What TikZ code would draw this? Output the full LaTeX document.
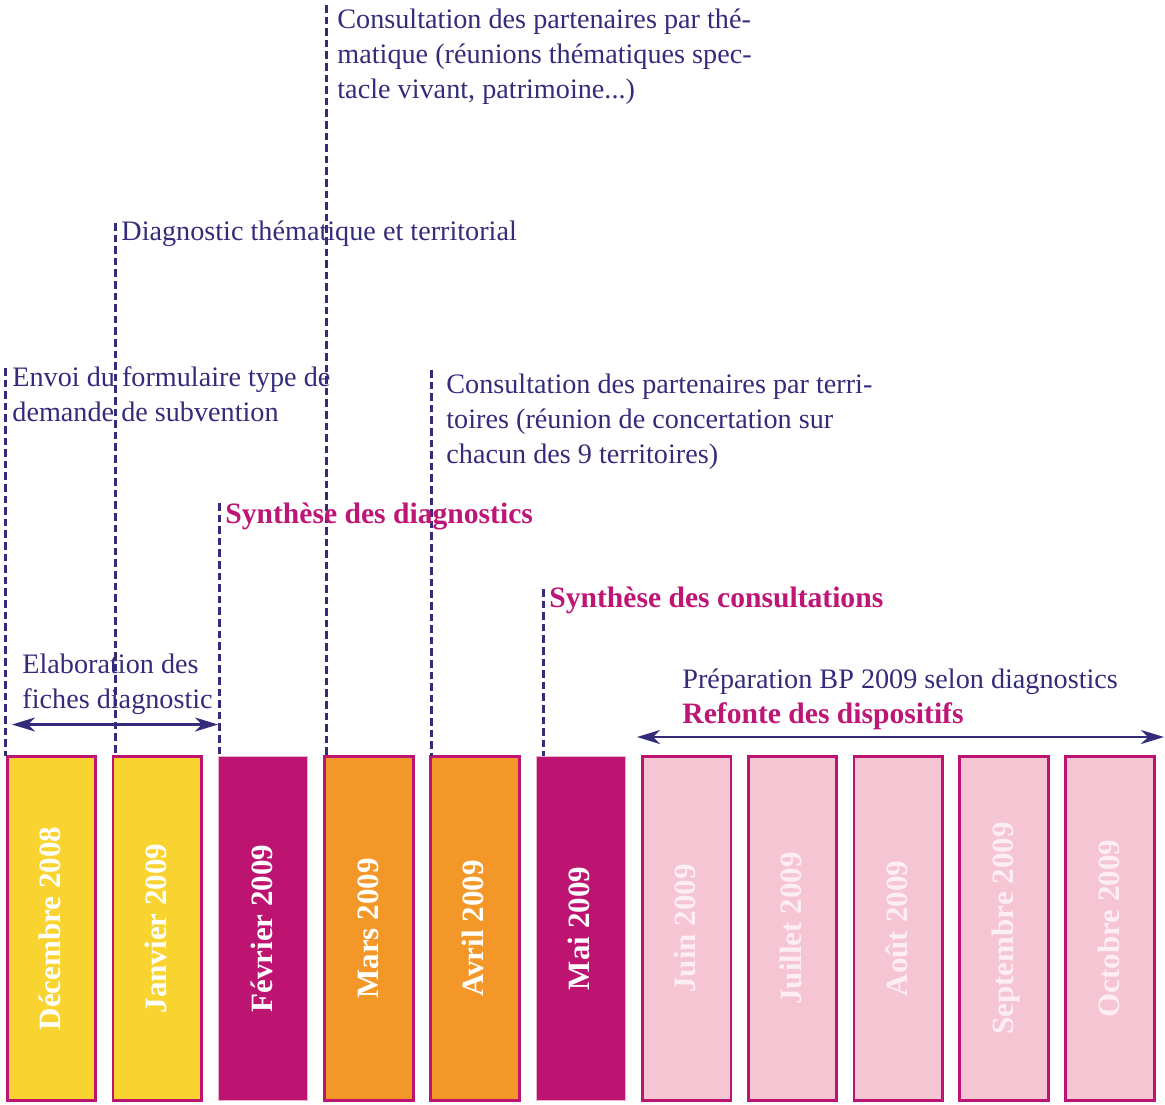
\documentclass[tikz,border=0pt]{standalone}
\usepackage{fontspec}
\setmainfont{Liberation Serif}
\usetikzlibrary{arrows.meta}
\definecolor{navy}{RGB}{52,44,122}
\definecolor{magtext}{RGB}{190,22,118}
\definecolor{magbar}{RGB}{189,20,114}
\definecolor{yelbar}{RGB}{249,212,49}
\definecolor{orabar}{RGB}{243,152,40}
\definecolor{pinkbar}{RGB}{245,197,211}
\definecolor{pinkline}{RGB}{232,178,204}
\definecolor{pinklabel}{RGB}{253,238,243}
\begin{document}
\begin{tikzpicture}[x=0.5pt,y=-0.5pt,
  bar/.style={draw=magbar, line width=1.4pt, minimum width=44.3pt, minimum height=172.3pt, inner sep=0pt, outer sep=0pt},
  yelbox/.style={bar, fill=yelbar},
  orabox/.style={bar, fill=orabar},
  magbox/.style={bar, fill=magbar, draw=pinkline, line width=0.5pt},
  pinkbox/.style={bar, fill=pinkbar},
  monthlabel/.style={rotate=90, anchor=base, inner sep=0pt, text=white, font=\fontsize{15.5}{18}\selectfont\bfseries},
  pinkmonth/.style={monthlabel, text=pinklabel},
  txt/.style={anchor=base west, inner sep=0pt, text=navy, font=\fontsize{14.1}{17.5}\selectfont},
  btxt/.style={anchor=base west, inner sep=0pt, text=magtext, font=\fontsize{14.8}{17.5}\selectfont\bfseries},
  guide/.style={draw=navy, line width=1.5pt, dash pattern=on 3.8pt off 2pt},
  span/.style={draw=navy, line width=1.1pt, {Stealth[length=11.5pt,width=7pt,inset=3.5pt]}-{Stealth[length=11.5pt,width=7pt,inset=3.5pt]}}
]
\useasboundingbox (0,0) rectangle (1165,1104);

% bars
\node[yelbox]  (b1)  at (51.5,928.5) {};
\node[yelbox]  (b2)  at (157.35,928.5) {};
\node[magbox]  (b3)  at (263.2,928.5) {};
\node[orabox]  (b4)  at (369.05,928.5) {};
\node[orabox]  (b5)  at (474.9,928.5) {};
\node[magbox]  (b6)  at (580.75,928.5) {};
\node[pinkbox] (b7)  at (686.6,928.5) {};
\node[pinkbox] (b8)  at (792.45,928.5) {};
\node[pinkbox] (b9)  at (898.3,928.5) {};
\node[pinkbox] (b10) at (1004.15,928.5) {};
\node[pinkbox] (b11) at (1110,928.5) {};

% month labels
\path (b1.center)  ++(9,0) node[monthlabel] (m1)  {Décembre 2008};
\path (b2.center)  ++(9,0) node[monthlabel] (m2)  {Janvier 2009};
\path (b3.center)  ++(9,0) node[monthlabel] (m3)  {Février 2009};
\path (b4.center)  ++(9,0) node[monthlabel] (m4)  {Mars 2009};
\path (b5.center)  ++(9,0) node[monthlabel] (m5)  {Avril 2009};
\path (b6.center)  ++(9,0) node[monthlabel] (m6)  {Mai 2009};
\path (b7.center)  ++(9,0) node[pinkmonth]  (m7)  {Juin 2009};
\path (b8.center)  ++(9,0) node[pinkmonth]  (m8)  {Juillet 2009};
\path (b9.center)  ++(9,0) node[pinkmonth]  (m9)  {Août 2009};
\path (b10.center) ++(9,0) node[pinkmonth]  (m10) {Septembre 2009};
\path (b11.center) ++(9,0) node[pinkmonth]  (m11) {Octobre 2009};

% dashed guides
\coordinate (g1) at (5,368);
\coordinate (g2) at (115,223);
\coordinate (g3) at (219,503);
\coordinate (g4) at (326,5);
\coordinate (g5) at (431,370);
\coordinate (g6) at (543,589);
\draw[guide] (g1) -- (g1 |- b1.north);
\draw[guide] (g2) -- (g2 |- b2.north);
\draw[guide] (g3) -- (g3 |- b3.north);
\draw[guide] (g4) -- (g4 |- b4.north);
\draw[guide] (g5) -- (g5 |- b5.north);
\draw[guide] (g6) -- (g6 |- b6.north);

% texts
\node[txt] (t1a) at (337,28) {Consultation des partenaires par thé-};
\node[txt] (t1b) at (337,63) {matique (réunions thématiques spec-};
\node[txt] (t1c) at (337,98) {tacle vivant, patrimoine...)};
\node[txt] (t2)  at (121,240) {Diagnostic thématique et territorial};
\node[txt] (t3a) at (12,386) {Envoi du formulaire type de};
\node[txt] (t3b) at (12,421) {demande de subvention};
\node[txt] (t4a) at (446,393) {Consultation des partenaires par terri-};
\node[txt] (t4b) at (446,428) {toires (réunion de concertation sur};
\node[txt] (t4c) at (446,463) {chacun des 9 territoires)};
\node[btxt] (t5) at (225,523) {Synthèse des diagnostics};
\node[btxt] (t6) at (549,607) {Synthèse des consultations};
\node[txt] (t7a) at (22,673) {Elaboration des};
\node[txt] (t7b) at (22,708) {fiches diagnostic};
\node[txt] (t8a) at (682,688) {Préparation BP 2009 selon diagnostics};
\node[btxt] (t8b) at (682,723) {Refonte des dispositifs};

% spans
\coordinate (s1l) at (12,724.5);
\coordinate (s1r) at (218,724.5);
\coordinate (s2l) at (637,737);
\coordinate (s2r) at (1164,737);
\draw[span] (s1l) -- (s1r);
\draw[span] (s2l) -- (s2r);
\end{tikzpicture}
\end{document}
